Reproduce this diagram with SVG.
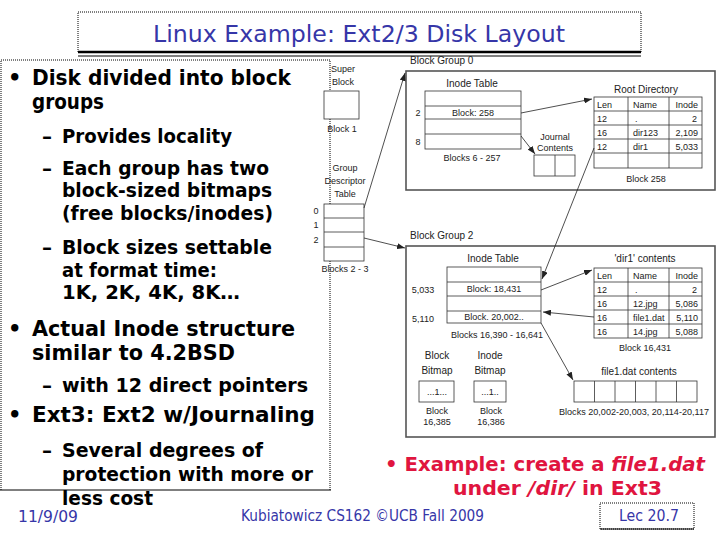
<svg xmlns="http://www.w3.org/2000/svg" width="720" height="540" viewBox="0 0 720 540">
<defs>
<marker id="ah" markerUnits="userSpaceOnUse" markerWidth="8" markerHeight="6" refX="8" refY="3" orient="auto"><path d="M0,0 L8,3 L0,6 z" fill="#222"/></marker>
</defs>
<style>
.ttl{font-family:"DejaVu Sans",sans-serif;font-size:23px;fill:#3636a8}
.b1{font-family:"DejaVu Sans",sans-serif;font-weight:bold;font-size:21px;fill:#000}
.b2{font-family:"DejaVu Sans",sans-serif;font-weight:bold;font-size:20px;fill:#000}
.red{font-family:"DejaVu Sans",sans-serif;font-weight:bold;font-size:19px;fill:#e0153f}
.foot{font-family:"DejaVu Sans",sans-serif;font-size:15px;fill:#3636a8}
.f{font-family:"Liberation Sans",Arial,sans-serif;font-size:9px;fill:#222}
.fl{font-family:"Liberation Sans",Arial,sans-serif;font-size:10px;fill:#222}
.m{text-anchor:middle}
.e{text-anchor:end}
.cell{fill:#fff;stroke:#333;stroke-width:0.8}
.ln{stroke:#333;stroke-width:0.8;fill:none}
.grp{fill:none;stroke:#555;stroke-width:1.6}
.conn{stroke:#222;stroke-width:0.8;fill:none;marker-end:url(#ah)}
.dot{fill:none;stroke:#000;stroke-width:1;stroke-dasharray:1 1}
</style>
<rect width="720" height="540" fill="#fff"/>

<g id="title">
<rect class="dot" x="78" y="12" width="563" height="40"/>
<line x1="78" y1="52" x2="641" y2="52" stroke="#000" stroke-width="2.5"/>
<line x1="78" y1="56" x2="641" y2="56" stroke="#000" stroke-width="1"/>
<text class="ttl m" x="359" y="42" textLength="412" lengthAdjust="spacingAndGlyphs">Linux Example: Ext2/3 Disk Layout</text>
</g>

<g id="bullets">
<path class="dot" d="M1,490 V60 H330 V490"/>
<line x1="0" y1="490" x2="331" y2="490" stroke="#000" stroke-width="1"/>
<text class="b1" x="8" y="85">•</text>
<text class="b1" x="32" y="85" textLength="259" lengthAdjust="spacingAndGlyphs">Disk divided into block</text>
<text class="b1" x="32" y="109" textLength="72" lengthAdjust="spacingAndGlyphs">groups</text>
<text class="b2" x="42" y="143">–</text>
<text class="b2" x="62" y="143" textLength="170" lengthAdjust="spacingAndGlyphs">Provides locality</text>
<text class="b2" x="42" y="175">–</text>
<text class="b2" x="62" y="175" textLength="207" lengthAdjust="spacingAndGlyphs">Each group has two</text>
<text class="b2" x="62" y="197" textLength="210" lengthAdjust="spacingAndGlyphs">block-sized bitmaps</text>
<text class="b2" x="62" y="220" textLength="211" lengthAdjust="spacingAndGlyphs">(free blocks/inodes)</text>
<text class="b2" x="42" y="254">–</text>
<text class="b2" x="62" y="254" textLength="210" lengthAdjust="spacingAndGlyphs">Block sizes settable</text>
<text class="b2" x="62" y="277" textLength="155" lengthAdjust="spacingAndGlyphs">at format time:</text>
<text class="b2" x="62" y="299" textLength="178" lengthAdjust="spacingAndGlyphs">1K, 2K, 4K, 8K…</text>
<text class="b1" x="8" y="336">•</text>
<text class="b1" x="32" y="336" textLength="263" lengthAdjust="spacingAndGlyphs">Actual Inode structure</text>
<text class="b1" x="32" y="360" textLength="203" lengthAdjust="spacingAndGlyphs">similar to 4.2BSD</text>
<text class="b2" x="42" y="392">–</text>
<text class="b2" x="62" y="392" textLength="246" lengthAdjust="spacingAndGlyphs">with 12 direct pointers</text>
<text class="b1" x="8" y="422">•</text>
<text class="b1" x="32" y="422" textLength="283" lengthAdjust="spacingAndGlyphs">Ext3: Ext2 w/Journaling</text>
<text class="b2" x="42" y="457">–</text>
<text class="b2" x="62" y="457" textLength="201" lengthAdjust="spacingAndGlyphs">Several degrees of</text>
<text class="b2" x="62" y="481" textLength="251" lengthAdjust="spacingAndGlyphs">protection with more or</text>
<text class="b2" x="62" y="505" textLength="91" lengthAdjust="spacingAndGlyphs">less cost</text>
</g>

<g id="superblock">
<text class="f m" x="343" y="72">Super</text>
<text class="f m" x="343" y="85">Block</text>
<rect class="cell" x="324" y="91" width="35" height="28"/>
<text class="f m" x="342" y="132">Block 1</text>
</g>

<g id="gdt">
<text class="f m" x="345" y="171">Group</text>
<text class="f m" x="345" y="184">Descriptor</text>
<text class="f m" x="345" y="197">Table</text>
<rect class="cell" x="324" y="204" width="40" height="57"/>
<path class="ln" d="M324,218 H364 M324,232 H364 M324,247 H364"/>
<text class="f m" x="316" y="214">0</text>
<text class="f m" x="316" y="228">1</text>
<text class="f m" x="316" y="243">2</text>
<text class="f m" x="345" y="272">Blocks 2 - 3</text>
</g>

<g id="group0">
<text class="fl" x="410" y="64">Block Group 0</text>
<rect class="grp" x="406" y="71" width="309" height="119"/>
</g>

<g id="inode0">
<text class="fl m" x="472" y="87">Inode Table</text>
<rect class="cell" x="425" y="91" width="96" height="58"/>
<path class="ln" d="M425,106 H521 M425,119 H521 M425,134 H521"/>
<text class="f m" x="473" y="116">Block: 258</text>
<text class="f m" x="418" y="116">2</text>
<text class="f m" x="418" y="145">8</text>
<text class="f m" x="472" y="161">Blocks 6 - 257</text>
</g>

<g id="journal">
<text class="f m" x="555" y="140">Journal</text>
<text class="f m" x="555" y="151">Contents</text>
<rect class="cell" x="534" y="155" width="41" height="21"/>
<line class="ln" x1="555" y1="155" x2="555" y2="176"/>
</g>

<g id="rootdir">
<text class="fl m" x="646" y="93">Root Directory</text>
<rect class="cell" x="594" y="97" width="108" height="71"/>
<path class="ln" d="M594,111 H702 M594,125 H702 M594,139 H702 M594,153 H702 M628,97 V168 M669,97 V168"/>
<text class="f" x="597" y="108">Len</text><text class="f" x="633" y="108">Name</text><text class="f e" x="698" y="108">Inode</text>
<text class="f" x="597" y="122">12</text><text class="f" x="635" y="122">.</text><text class="f e" x="697" y="122">2</text>
<text class="f" x="597" y="136">16</text><text class="f" x="633" y="136">dir123</text><text class="f e" x="698" y="136">2,109</text>
<text class="f" x="597" y="150">12</text><text class="f" x="633" y="150">dir1</text><text class="f e" x="698" y="150">5,033</text>
<text class="f m" x="646" y="182">Block 258</text>
</g>

<g id="group2">
<text class="fl" x="410" y="239">Block Group 2</text>
<rect class="grp" x="406" y="246" width="309" height="191"/>
</g>

<g id="inode2">
<text class="fl m" x="493" y="262">Inode Table</text>
<rect class="cell" x="447" y="267" width="94" height="56"/>
<path class="ln" d="M447,282 H541 M447,296 H541 M447,311 H541"/>
<text class="f m" x="494" y="292">Block: 18,431</text>
<text class="f m" x="494" y="320">Block. 20,002..</text>
<text class="f m" x="423" y="293">5,033</text>
<text class="f m" x="423" y="322">5,110</text>
<text class="f m" x="497" y="338">Blocks 16,390 - 16,641</text>
</g>

<g id="dir1">
<text class="fl m" x="645" y="262">'dir1' contents</text>
<rect class="cell" x="594" y="268" width="108" height="70"/>
<path class="ln" d="M594,282 H702 M594,296 H702 M594,310 H702 M594,324 H702 M628,268 V338 M669,268 V338"/>
<text class="f" x="597" y="279">Len</text><text class="f" x="633" y="279">Name</text><text class="f e" x="698" y="279">Inode</text>
<text class="f" x="597" y="293">12</text><text class="f" x="635" y="293">.</text><text class="f e" x="697" y="293">2</text>
<text class="f" x="597" y="307">16</text><text class="f" x="633" y="307">12.jpg</text><text class="f e" x="698" y="307">5,086</text>
<text class="f" x="597" y="321">16</text><text class="f" x="633" y="321">file1.dat</text><text class="f e" x="698" y="321">5,110</text>
<text class="f" x="597" y="335">16</text><text class="f" x="633" y="335">14.jpg</text><text class="f e" x="698" y="335">5,088</text>
<text class="f m" x="645" y="351">Block 16,431</text>
</g>

<g id="blockbitmap">
<text class="fl m" x="437" y="359">Block</text>
<text class="fl m" x="437" y="374">Bitmap</text>
<rect class="cell" x="419" y="381" width="35" height="21"/>
<text class="f m" x="437" y="395">...1...</text>
<text class="f m" x="437" y="414">Block</text>
<text class="f m" x="437" y="425">16,385</text>
</g>

<g id="inodebitmap">
<text class="fl m" x="490" y="359">Inode</text>
<text class="fl m" x="490" y="374">Bitmap</text>
<rect class="cell" x="474" y="381" width="32" height="21"/>
<text class="f m" x="490" y="395">...1..</text>
<text class="f m" x="491" y="414">Block</text>
<text class="f m" x="491" y="425">16,386</text>
</g>

<g id="file1">
<text class="fl m" x="639" y="375">file1.dat contents</text>
<rect class="cell" x="574" y="381" width="123" height="21"/>
<path class="ln" d="M594.5,381 V402 M615,381 V402 M635.5,381 V402 M656,381 V402 M676.5,381 V402"/>
<text class="f m" x="634" y="415" textLength="150" lengthAdjust="spacingAndGlyphs">Blocks 20,002-20,003, 20,114-20,117</text>
</g>

<g id="connectors">
<line class="conn" x1="364" y1="208" x2="405" y2="73"/>
<line class="conn" x1="364" y1="238" x2="405" y2="248"/>
<line class="conn" x1="521" y1="113" x2="592" y2="99"/>
<line class="conn" x1="521" y1="136" x2="535" y2="154"/>
<line class="conn" x1="594" y1="148" x2="542" y2="279"/>
<line class="conn" x1="541" y1="290" x2="592" y2="270"/>
<line class="conn" x1="594" y1="317" x2="543" y2="312"/>
<line class="conn" x1="541" y1="323" x2="573" y2="380"/>
</g>

<g id="example">
<text class="red" x="385" y="471" textLength="320" lengthAdjust="spacingAndGlyphs">• Example: create a <tspan font-style="italic">file1.dat</tspan></text>
<text class="red" x="453" y="495" textLength="209" lengthAdjust="spacingAndGlyphs">under <tspan font-style="italic">/dir/</tspan> in Ext3</text>
</g>

<g id="footer">
<text class="foot" x="18" y="522" textLength="60" lengthAdjust="spacingAndGlyphs">11/9/09</text>
<text class="foot" x="241" y="521" textLength="243" lengthAdjust="spacingAndGlyphs">Kubiatowicz CS162 ©UCB Fall 2009</text>
<rect class="dot" x="600" y="503" width="94" height="26"/>
<line x1="600" y1="529" x2="694" y2="529" stroke="#000" stroke-width="1"/>
<text class="foot" x="619" y="521" textLength="60" lengthAdjust="spacingAndGlyphs">Lec 20.7</text>
</g>
</svg>
